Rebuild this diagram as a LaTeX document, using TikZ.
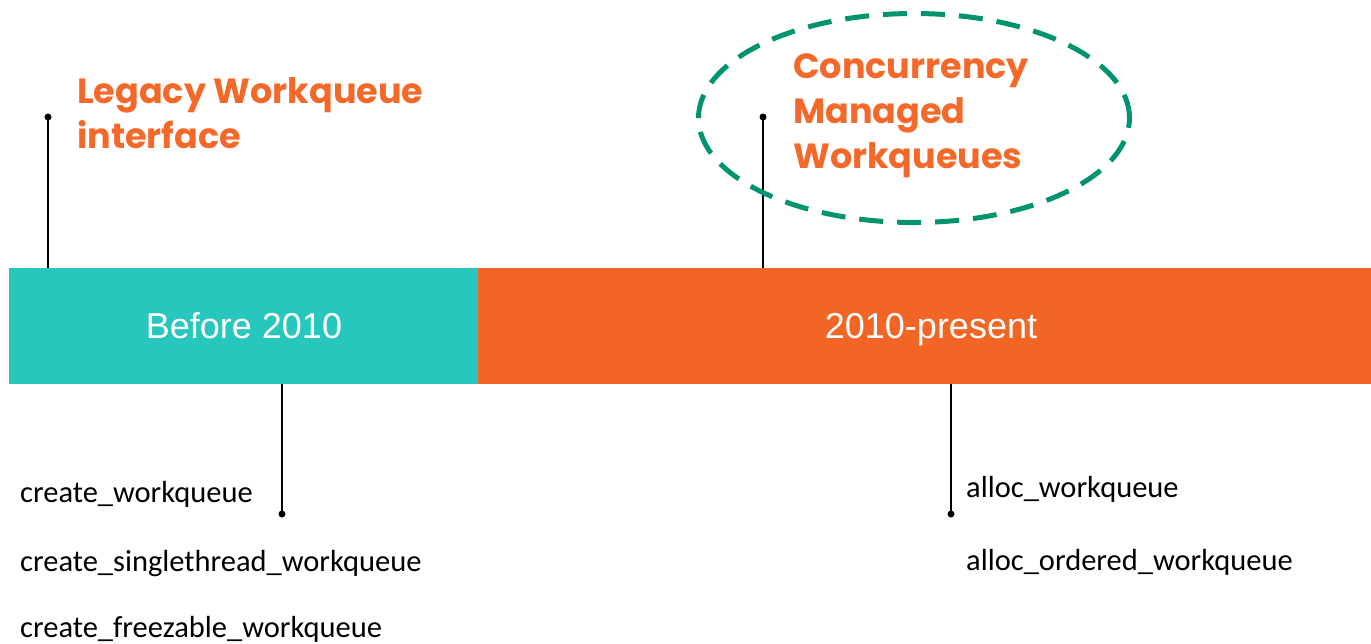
\documentclass[tikz,border=0pt]{standalone}
\usetikzlibrary{shapes.geometric}
\usepackage{fontspec}
\setmainfont{Liberation Sans}
\newfontfamily\headfont{Poppins}
\newfontfamily\calfont{Carlito}
\definecolor{tealbar}{HTML}{27C7BE}
\definecolor{orangebar}{HTML}{F26524}
\definecolor{headorange}{HTML}{F4692A}
\definecolor{dashgreen}{HTML}{00946E}
\tikzset{
  barbox/.style={anchor=base, inner sep=0pt, outer sep=0pt, text=white, font=\fontsize{36}{40}\selectfont},
  heading/.style={anchor=base west, inner sep=0pt, text=headorange, align=left, font=\headfont\bfseries\fontsize{35}{45}\selectfont},
  apitext/.style={anchor=base west, inner sep=0pt, font=\calfont\fontsize{30.5}{34}\selectfont},
  stem/.style={line width=1.3pt, black},
  pin/.style={circle, fill=black, inner sep=0pt, minimum size=7pt},
}
\begin{document}
\begin{tikzpicture}[x=1pt,y=-1pt]
\useasboundingbox (0,0) rectangle (1371,643);
% bars
\fill[tealbar] (9,268) rectangle (478,384);
\fill[orangebar] (478,268) rectangle (1371,384);
\node[barbox] (before) at (244,338) {Before 2010};
\node[barbox] (present) at (931,338) {2010-present};
% top stems
\node[pin] (p1) at (48,117) {};
\coordinate (b1) at (48,268);
\draw[stem] (p1.center) -- (b1);
\node[pin] (p2) at (763,117) {};
\coordinate (b2) at (763,268);
\draw[stem] (p2.center) -- (b2);
% headings (base = baseline of last line)
\node[heading] (legacy) at (77,148) {Legacy Workqueue\\interface};
\node[heading] (cmwq) at (793,168) {Concurrency\\Managed\\Workqueues};
\node[draw=dashgreen, line width=5pt, dash pattern=on 24pt off 14pt, ellipse, minimum width=431pt, minimum height=209pt, inner sep=0pt] (oval) at (914,118) {};
% bottom stems
\coordinate (b3) at (282,384);
\node[pin] (p3) at (282,514) {};
\draw[stem] (b3) -- (p3.center);
\coordinate (b4) at (951,384);
\node[pin] (p4) at (951,514) {};
\draw[stem] (b4) -- (p4.center);
% api names
\node[apitext] (c1) at (20,502) {create\_workqueue};
\node[apitext] (c2) at (20,571) {create\_singlethread\_workqueue};
\node[apitext] (c3) at (20,637) {create\_freezable\_workqueue};
\node[apitext] (a1) at (966,497) {alloc\_workqueue};
\node[apitext] (a2) at (966,570) {alloc\_ordered\_workqueue};
\end{tikzpicture}
\end{document}
